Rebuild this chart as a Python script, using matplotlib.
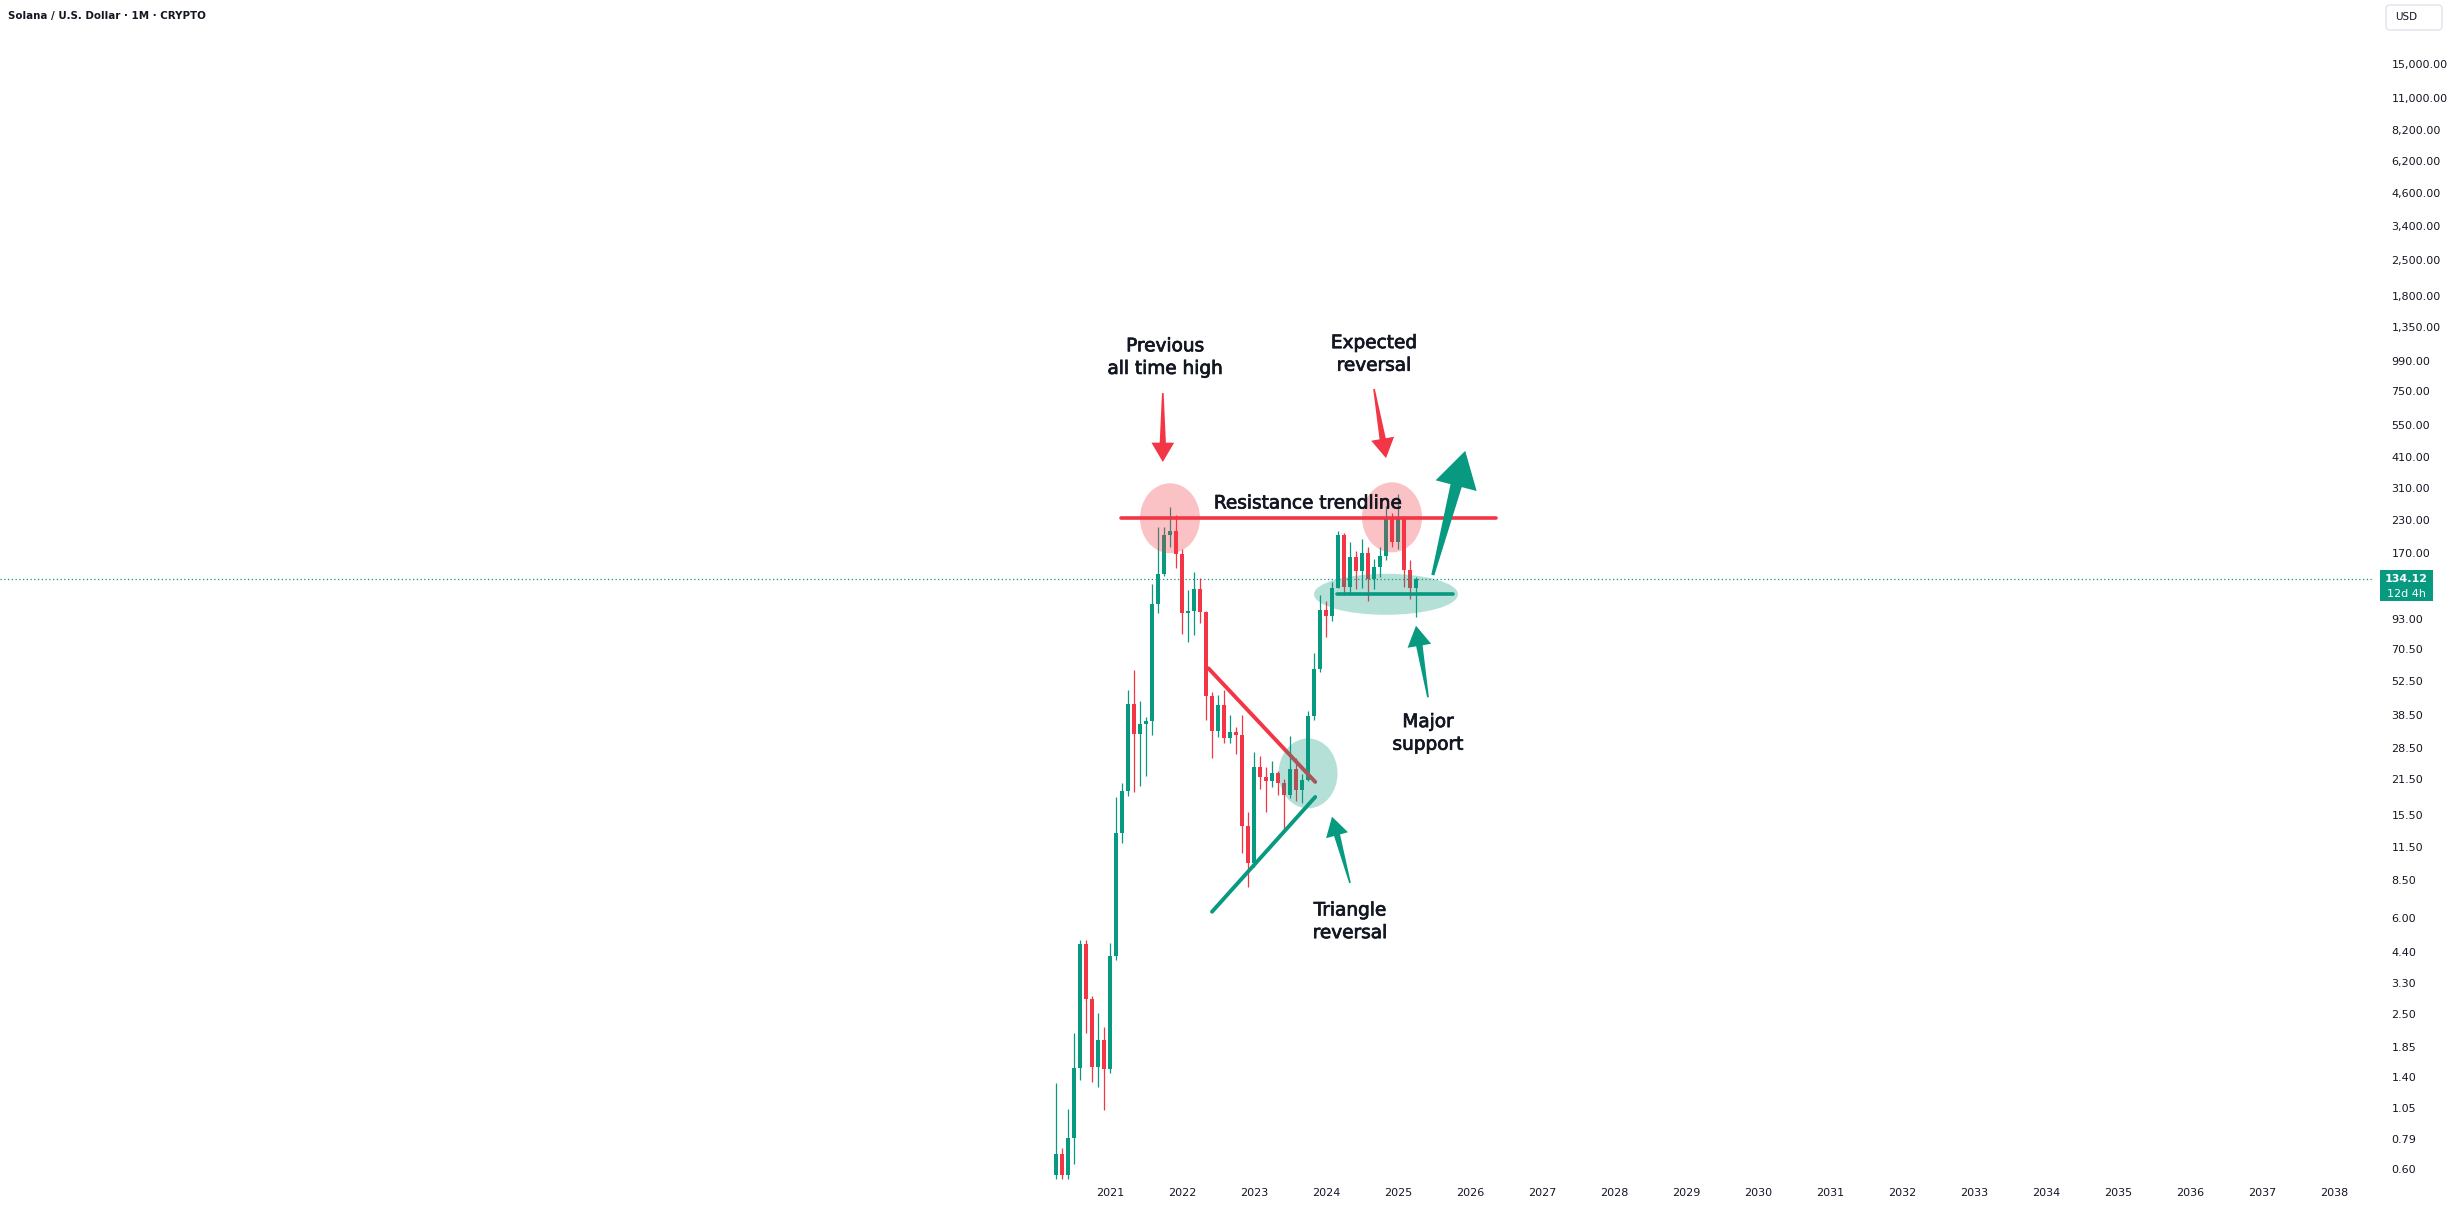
import numpy as np
import matplotlib
matplotlib.use("Agg")
import matplotlib.pyplot as plt
import matplotlib.patheffects as pe
from matplotlib.patches import Ellipse, Polygon, Rectangle, FancyBboxPatch
from matplotlib.ticker import NullLocator
from matplotlib.transforms import IdentityTransform

UP, DOWN, INK = "#089981", "#f23645", "#131722"

# monthly candles Apr 2020 .. Apr 2025, month index 0 = Jan 2021
first_month = -9
opens = [0.57, 0.69, 0.57, 0.80, 1.52, 4.73, 2.87, 1.53, 1.96,
         1.50, 4.24, 13.1, 19.2, 42.7, 32.5, 35.6, 36.6, 107, 140, 201, 208,
         168, 98.4, 100.5, 122, 99, 46, 33.4, 42.3, 31.2, 32.9, 32.2, 14.0,
         9.96, 23.9, 21.9, 21.0, 22.6, 20.6, 18.5, 23.6, 19.4, 21.3, 38.3, 58.6,
         101, 96, 124, 201, 125, 163.5, 145, 170, 134, 150, 166, 236,
         189, 232, 146, 124]
highs = [1.33, 0.73, 1.04, 2.09, 4.90, 4.90, 2.95, 2.52, 2.21,
         4.77, 18.2, 20.7, 48.5, 58.3, 43.9, 37.9, 128, 216, 216, 259, 241,
         176, 121, 143, 136, 100, 47.6, 46.4, 48.6, 38.5, 34.5, 38.5, 15.8,
         27.6, 26.5, 24.0, 25.2, 23.0, 21.5, 31.8, 26.0, 22.5, 40.0, 68.0, 116,
         110, 131, 209, 205, 188, 173, 193, 180, 161, 180, 262, 245,
         292, 240, 160, 137]
lows = [0.55, 0.55, 0.55, 0.63, 1.36, 2.09, 1.34, 1.28, 1.03,
        1.45, 4.10, 11.9, 18.4, 19.1, 20.2, 22.1, 32.1, 98, 138, 180, 148,
        81, 75.5, 80, 90, 37, 26, 31.6, 29.8, 29.9, 27, 10.9, 8.0,
        9.6, 19.5, 15.8, 20.0, 18.5, 13.2, 18.0, 17.5, 17.3, 21.0, 37.0, 57,
        79, 91, 123, 116, 116, 122, 123, 110, 122, 137, 160, 180,
        177, 125, 112, 95]
closes = [0.69, 0.57, 0.80, 1.52, 4.73, 2.87, 1.53, 1.96, 1.50,
          4.24, 13.1, 19.2, 42.7, 32.5, 35.6, 36.6, 107, 140, 201, 208, 168,
          98.4, 100.5, 122, 99, 46, 33.4, 42.3, 31.2, 32.9, 32.2, 14.0, 9.96,
          23.9, 21.9, 21.0, 22.6, 20.6, 18.5, 23.6, 19.4, 21.3, 38.3, 58.6, 101,
          96, 124, 201, 125, 163.5, 145, 170, 134, 150, 166, 236, 189,
          232, 146, 124, 134.12]
last_price = 134.12
countdown = "12d 4h"

y_ticks = [15000, 11000, 8200, 6200, 4600, 3400, 2500, 1800, 1350, 990,
           750, 550, 410, 310, 230, 170, 93, 70.5, 52.5, 38.5, 28.5, 21.5, 15.5,
           11.5, 8.5, 6, 4.4, 3.3, 2.5, 1.85, 1.4, 1.05, 0.79, 0.6]
years = list(range(2021, 2039))

# drawings, anchored in (month index, price)
resistance = [(1.8, 234), (64.3, 234)]
support = [(37.8, 117), (57.1, 117)]
tri_upper = [(16.4, 59.2), (34.2, 20.9)]
tri_lower = [(17.0, 6.36), (34.2, 18.2)]
red_circles = [(10.0, 234), (47.0, 236)]
green_circle = (33.0, 22.6)
support_ellipse = (46.0, 116.6)
red_arrows = [((8.8, 737), (8.8, 392)), ((44.0, 765), (46.0, 406))]
green_arrows = [((53.8, 139), (59.2, 434)), ((53.0, 45.4), (51.0, 87.4)),
                ((40.0, 8.28), (37.0, 15.2))]
notes = [("Previous\nall time high", 9.2, 1020), ("Expected\nreversal", 44.0, 1050),
         ("Resistance trendline", 33.0, 268), ("Major\nsupport", 53.0, 32.6),
         ("Triangle\nreversal", 40.0, 5.8)]

W, H = 2455, 1206
fig = plt.figure(figsize=(W / 100, H / 100), dpi=100)
ax = fig.add_axes([0, 26 / H, 2372 / W, 1 - 26 / H])
ax.set_yscale("log")
ax.set_xlim(-185, 210.33)
ax.set_ylim(0.5445, 27015)
for s in ax.spines.values():
    s.set_visible(False)

# candles
m = np.arange(len(opens)) + first_month
o, h, l, c = map(np.array, (opens, highs, lows, closes))
col = np.where(c >= o, UP, DOWN)
ax.vlines(m, l, h, colors=col, lw=0.9, zorder=2)
ax.bar(m, np.abs(c - o), bottom=np.minimum(o, c), width=0.78, color=col, lw=0, zorder=3)

ax.axhline(last_price, color=UP, lw=0.9, ls=(0, (1, 2)), zorder=1)

# trend lines
for pts, colr, lw in [(resistance, DOWN, 2.6), (support, UP, 2.6),
                      (tri_upper, DOWN, 2.8), (tri_lower, UP, 2.8)]:
    xs, ys = zip(*pts)
    ax.plot(xs, ys, color=colr, lw=lw, solid_capstyle="round", zorder=4)

px = ax.transData.transform
ident = IdentityTransform()


def blob(center, rx, ry, colr):
    cx, cy = px(center)
    ax.add_patch(Ellipse((cx, cy), 2 * rx, 2 * ry, transform=ident,
                         fc=colr, ec="none", alpha=0.3, zorder=5))


for cc in red_circles:
    blob(cc, 30, 35, DOWN)
blob(green_circle, 29.5, 35, UP)
blob(support_ellipse, 72, 20.5, UP)


def arrow(tail, tip, colr):
    p0, p1 = px([tail, tip])
    d = p1 - p0
    L = np.hypot(*d)
    u = d / L
    n = np.array([-u[1], u[0]])
    base = p1 - u * 0.28 * L
    pts = [p0 + n * 0.012 * L, base + n * 0.045 * L, base + n * 0.165 * L, p1,
           base - n * 0.165 * L, base - n * 0.045 * L, p0 - n * 0.012 * L]
    ax.add_patch(Polygon(pts, closed=True, transform=ident, fc=colr, ec="none", zorder=6))


for tail, tip in red_arrows:
    arrow(tail, tip, DOWN)
for tail, tip in green_arrows:
    arrow(tail, tip, UP)

bold_ink = [pe.withStroke(linewidth=0.55, foreground=INK)]
for txt, xm, yp in notes:
    ax.text(xm, yp, txt, ha="center", va="center", fontsize=13.3, color=INK,
            linespacing=1.33, zorder=7, path_effects=bold_ink)

# axes
ax.yaxis.tick_right()
ax.set_yticks(y_ticks)
ax.set_yticklabels([f"{v:,.2f}" for v in y_ticks])
ax.yaxis.set_minor_locator(NullLocator())
ax.set_xticks([(y - 2021) * 12 for y in years])
ax.set_xticklabels([str(y) for y in years])
ax.tick_params(axis="y", length=0, pad=14, labelsize=8, labelcolor=INK)
ax.tick_params(axis="x", length=0, pad=6, labelsize=8, labelcolor=INK)

# last price tag
ly = px((0, last_price))[1]
x0 = ax.bbox.x1 + 8
fig.patches.append(Rectangle((x0, ly - 22), 53, 31, transform=ident, fc=UP, ec="none",
                             figure=fig))
fig.text(x0 + 26.5, ly, f"{last_price:.2f}", transform=ident, ha="center", va="center",
         fontsize=8, color="white", fontweight="bold")
fig.text(x0 + 26.5, ly - 15, countdown, transform=ident, ha="center", va="center",
         fontsize=8, color="white")

# currency box and title
fig.patches.append(FancyBboxPatch((2386, H - 30), 56, 25, transform=ident,
                                  boxstyle="round,pad=0,rounding_size=4",
                                  fc="white", ec="#e0e3eb", lw=1, figure=fig))
fig.text(2395, H - 17.5, "USD", transform=ident, va="center", fontsize=7.5, color=INK)
fig.text(8, H - 16, "Solana / U.S. Dollar \u00b7 1M \u00b7 CRYPTO", transform=ident,
         va="center", fontsize=7.4, color=INK, fontweight="bold")

fig.savefig("out.png", dpi=100, facecolor="white")
